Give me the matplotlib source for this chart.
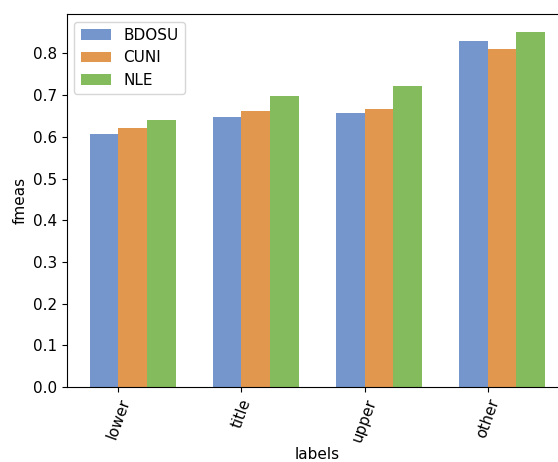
import numpy as np
import matplotlib
matplotlib.use('Agg')
import matplotlib.pyplot as plt

# data
labels = ['lower', 'title', 'upper', 'other']
bdosu = [0.607, 0.647, 0.657, 0.830]
cuni = [0.621, 0.662, 0.667, 0.811]
nle = [0.640, 0.699, 0.722, 0.852]

plt.rcParams['font.size'] = 11

colors = ['#7496cd', '#e1974e', '#84bb5c']
width = 0.7 / 3
x = np.arange(len(labels))

fig = plt.figure(figsize=(5.58, 4.62), dpi=100)
# axes runs past the right edge of the figure, as in the reference
ax = fig.add_axes([0.1197, 0.1623, 0.898, 0.8074])

ax.bar(x - width, bdosu, width, align='edge', color=colors[0], label='BDOSU')
ax.bar(x, cuni, width, align='edge', color=colors[1], label='CUNI')
ax.bar(x + width, nle, width, align='edge', color=colors[2], label='NLE')

ax.set_xticks(x)
ax.set_xticklabels(labels, rotation=70)
ax.set_xlabel('labels', labelpad=2)
ax.set_ylabel('fmeas')
ax.legend(loc='upper left')

fig.savefig('out.png', dpi=100)
